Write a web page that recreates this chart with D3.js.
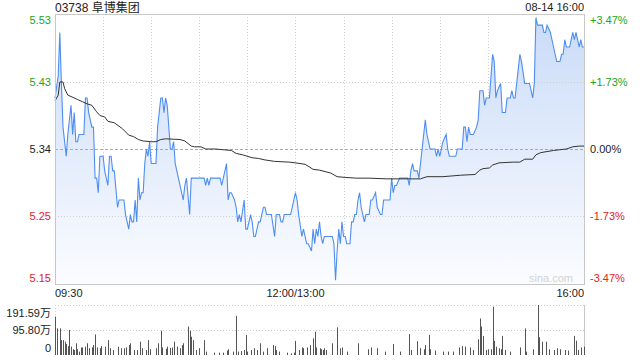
<!DOCTYPE html>
<html>
<head>
<meta charset="utf-8">
<script src="https://cdn.jsdelivr.net/npm/d3@7"></script>
<style>
  body { margin: 0; background: #fff; }
  svg { display: block; font-family: "Liberation Sans", Arial, sans-serif; }
</style>
</head>
<body>
<svg id="chart" width="640" height="360"></svg>
<script>
// ---- data ----
const title = "03738 阜博集团"
const dateLabel = "08-14 16:00"
const prevClose = 5.34
const pctTicks = [3.47, 1.73, 0, -1.73, -3.47]
const priceTicks = ["5.53", "5.43", "5.34", "5.25", "5.15"]
const pctLabels = ["+3.47%", "+1.73%", "0.00%", "-1.73%", "-3.47%"]
const timeLabels = [[0, "09:30"], [150, "12:00/13:00"], [330, "16:00"]]
const volTicks = [[191.59, "191.59万"], [95.80, "95.80万"], [0, "0"]]

// [minute since open, price]
const priceData = [[0,5.41],[2,5.44],[3,5.50],[4,5.43],[5,5.37],[7,5.33],[8,5.36],[10,5.40],[11,5.36],[12,5.39],[13,5.35],[14,5.35],[15,5.36],[18,5.36],[19,5.41],[20,5.41],[21,5.39],[23,5.37],[24,5.37],[25,5.30],[26,5.30],[27,5.28],[28,5.33],[30,5.33],[31,5.31],[33,5.29],[34,5.33],[35,5.33],[36,5.31],[37,5.31],[39,5.26],[40,5.27],[43,5.27],[44,5.25],[46,5.23],[47,5.25],[48,5.24],[49,5.24],[50,5.27],[51,5.24],[52,5.30],[53,5.27],[54,5.28],[55,5.28],[56,5.32],[57,5.34],[58,5.33],[59,5.35],[60,5.32],[63,5.32],[64,5.37],[66,5.41],[67,5.41],[68,5.39],[69,5.41],[70,5.40],[72,5.34],[73,5.34],[74,5.35],[75,5.32],[77,5.30],[80,5.27],[81,5.29],[82,5.30],[84,5.25],[85,5.30],[93,5.30],[94,5.29],[95,5.30],[96,5.29],[97,5.30],[103,5.30],[104,5.29],[105,5.30],[106,5.31],[107,5.32],[108,5.27],[109,5.28],[110,5.28],[112,5.27],[113,5.26],[114,5.24],[115,5.25],[116,5.24],[118,5.27],[119,5.23],[120,5.23],[122,5.25],[123,5.24],[124,5.22],[125,5.22],[126,5.23],[127,5.24],[128,5.24],[130,5.26],[131,5.26],[132,5.25],[135,5.25],[137,5.22],[138,5.25],[140,5.25],[141,5.24],[142,5.24],[143,5.25],[147,5.25],[150,5.28],[151,5.27],[152,5.25],[154,5.22],[155,5.23],[156,5.22],[157,5.21],[158,5.21],[160,5.20],[161,5.23],[162,5.21],[163,5.23],[164,5.22],[165,5.24],[166,5.22],[167,5.21],[168,5.22],[173,5.22],[174,5.21],[175,5.16],[176,5.20],[177,5.23],[178,5.21],[179,5.24],[180,5.22],[181,5.22],[182,5.21],[184,5.21],[185,5.24],[186,5.24],[187,5.25],[188,5.25],[189,5.27],[190,5.28],[191,5.26],[193,5.24],[194,5.25],[196,5.25],[197,5.27],[198,5.27],[200,5.28],[201,5.26],[203,5.25],[204,5.25],[205,5.27],[209,5.27],[210,5.30],[211,5.28],[212,5.29],[213,5.29],[215,5.30],[220,5.30],[221,5.29],[222,5.31],[223,5.32],[224,5.31],[226,5.31],[227,5.30],[228,5.32],[229,5.34],[231,5.38],[232,5.36],[234,5.34],[237,5.34],[238,5.33],[239,5.34],[240,5.33],[241,5.34],[242,5.35],[244,5.36],[245,5.34],[246,5.33],[250,5.33],[251,5.34],[254,5.34],[255,5.37],[256,5.37],[257,5.35],[258,5.37],[259,5.36],[261,5.36],[263,5.37],[264,5.38],[265,5.42],[267,5.42],[268,5.40],[269,5.41],[271,5.41],[273,5.47],[274,5.46],[275,5.41],[276,5.42],[278,5.43],[279,5.39],[281,5.39],[282,5.41],[284,5.41],[285,5.42],[286,5.41],[287,5.41],[289,5.45],[290,5.47],[291,5.46],[293,5.43],[296,5.43],[297,5.42],[298,5.41],[299,5.43],[300,5.52],[301,5.51],[304,5.51],[305,5.50],[306,5.50],[307,5.51],[309,5.50],[310,5.49],[311,5.48],[313,5.46],[315,5.46],[316,5.47],[317,5.47],[318,5.49],[319,5.48],[321,5.48],[322,5.49],[323,5.50],[324,5.49],[325,5.50],[326,5.49],[327,5.48],[328,5.49],[329,5.48],[330,5.48]]

// [minute, average price]
const avgData = [[0,5.406],[2,5.414],[3,5.432],[5,5.432],[6,5.423],[8,5.414],[10,5.412],[14,5.408],[17,5.405],[20,5.402],[23,5.400],[26,5.391],[28,5.386],[31,5.384],[33,5.378],[37,5.376],[42,5.368],[46,5.359],[49,5.357],[52,5.353],[55,5.351],[60,5.350],[63,5.350],[66,5.353],[69,5.354],[78,5.353],[81,5.351],[85,5.344],[87,5.343],[91,5.343],[94,5.340],[100,5.340],[110,5.338],[113,5.334],[117,5.332],[123,5.328],[127,5.327],[131,5.325],[137,5.323],[146,5.322],[150,5.321],[156,5.319],[159,5.315],[161,5.312],[165,5.311],[172,5.307],[176,5.302],[181,5.301],[188,5.300],[196,5.300],[207,5.299],[228,5.299],[232,5.302],[242,5.302],[253,5.304],[262,5.305],[265,5.311],[267,5.313],[271,5.314],[273,5.318],[277,5.321],[286,5.322],[290,5.322],[293,5.326],[298,5.326],[300,5.332],[303,5.335],[311,5.338],[315,5.339],[319,5.340],[323,5.343],[327,5.344],[330,5.344]]

// [minute, volume in 万]
const volData = [[0,147],[1,102],[3,102],[4,57],[5,57],[6,51],[7,42],[8,34],[9,96],[10,32],[11,22],[12,19],[13,45],[14,22],[15,13],[16,29],[17,29],[19,32],[20,45],[21,26],[23,29],[24,38],[25,79],[26,29],[28,26],[29,34],[31,32],[33,57],[34,26],[36,19],[39,32],[41,26],[43,26],[44,29],[46,38],[47,45],[49,19],[51,19],[53,51],[54,26],[57,19],[58,57],[59,22],[63,26],[64,45],[66,93],[67,29],[69,24],[70,32],[72,27],[73,29],[74,51],[76,32],[78,26],[79,38],[80,45],[83,109],[84,93],[85,70],[86,57],[88,19],[90,26],[93,57],[94,13],[99,9],[102,9],[105,9],[107,17],[108,22],[111,13],[113,150],[114,13],[116,15],[118,19],[119,77],[120,13],[122,19],[124,26],[126,19],[128,45],[130,13],[132,26],[136,38],[137,34],[138,19],[140,13],[145,9],[147,6],[149,9],[150,54],[152,19],[154,29],[155,26],[157,29],[159,38],[161,64],[162,89],[163,29],[165,26],[166,22],[167,19],[168,26],[169,19],[173,45],[176,106],[178,26],[179,29],[182,13],[189,45],[195,22],[197,29],[201,26],[206,13],[211,42],[215,13],[221,80],[222,19],[226,53],[228,26],[230,22],[231,38],[233,77],[234,22],[237,17],[242,13],[245,13],[248,13],[252,29],[254,34],[256,32],[259,29],[261,19],[264,60],[265,140],[266,109],[267,73],[269,19],[270,22],[272,22],[273,185],[274,54],[275,32],[277,26],[278,22],[279,73],[281,19],[284,13],[290,29],[293,102],[294,13],[298,22],[301,191.59],[302,68],[304,51],[306,51],[308,22],[311,19],[313,26],[315,22],[318,19],[320,17],[324,73],[325,55],[326,19],[328,29],[330,32]]

// ---- layout ----
const pLeft = 55, pRight = 584, pTop = 14, pBottom = 284
const vTop = 305, vBottom = 355
const green = "#1aa51a", red = "#e8211b", gridColor = "#cfcfcf"

const svg = d3.select("#chart")

const x = d3.scaleLinear().domain([0, 330]).range([pLeft, pRight])
const y = d3.scaleLinear()
  .domain([prevClose * (1 - 0.0347), prevClose * (1 + 0.0347)])
  .range([pBottom, pTop])
const vy = d3.scaleLinear().domain([0, 191.59]).range([vBottom, vTop])

const colorOf = (p) => p > 0 ? green : (p < 0 ? red : "#222")
const labelY = (d, i) => i === 0 ? 24 : (i === pctTicks.length - 1 ? 282 : y(prevClose * (1 + d / 100)) + 4)

// gradient for area
const grad = svg.append("defs").append("linearGradient")
  .attr("id", "fillGrad")
  .attr("gradientUnits", "userSpaceOnUse")
  .attr("x1", 0).attr("y1", pTop).attr("x2", 0).attr("y2", pBottom)
grad.append("stop").attr("offset", "0%").attr("stop-color", "#c9dbf8")
grad.append("stop").attr("offset", "100%").attr("stop-color", "#fbfcff")

// vertical grid lines every 30 min
const vGrid = d3.range(30, 330, 30)
svg.append("g").selectAll("line")
  .data(vGrid)
  .join("line")
    .attr("x1", d => Math.round(x(d)) + 0.5).attr("x2", d => Math.round(x(d)) + 0.5)
    .attr("y1", pTop).attr("y2", pBottom)
    .attr("stroke", gridColor)
    .attr("stroke-dasharray", "1,2")

// area + price line
const area = d3.area()
  .x(d => x(d[0]))
  .y0(pBottom)
  .y1(d => y(d[1]))
svg.append("path")
  .datum(priceData)
  .attr("d", area)
  .attr("fill", "url(#fillGrad)")

// horizontal grid lines
svg.append("g").selectAll("line")
  .data(pctTicks.filter(p => Math.abs(p) < 3))
  .join("line")
    .attr("x1", pLeft).attr("x2", pRight)
    .attr("y1", d => Math.round(y(prevClose * (1 + d / 100))) + 0.5)
    .attr("y2", d => Math.round(y(prevClose * (1 + d / 100))) + 0.5)
    .attr("stroke", d => d === 0 ? "#aaa" : gridColor)
    .attr("stroke-dasharray", d => d === 0 ? "3,2" : "1,2")

svg.append("path")
  .datum(priceData)
  .attr("d", d3.line().x(d => x(d[0])).y(d => y(d[1])))
  .attr("fill", "none")
  .attr("stroke", "#4f8ef0")
  .attr("stroke-width", 1.1)

// average line
svg.append("path")
  .datum(avgData)
  .attr("d", d3.line().x(d => x(d[0])).y(d => y(d[1])))
  .attr("fill", "none")
  .attr("stroke", "#333")
  .attr("stroke-width", 1)

// chart border
svg.append("rect")
  .attr("x", pLeft + 0.5).attr("y", pTop + 0.5)
  .attr("width", pRight - pLeft).attr("height", pBottom - pTop)
  .attr("fill", "none")
  .attr("stroke", "#c8c8c8")

// watermark
svg.append("text")
  .attr("x", 573).attr("y", 282)
  .attr("text-anchor", "end")
  .attr("font-size", "11px")
  .attr("fill", "#d4d4d4")
  .text("sina.com")

// left price labels
svg.append("g").selectAll("text")
  .data(pctTicks)
  .join("text")
    .attr("x", 51)
    .attr("y", labelY)
    .attr("text-anchor", "end")
    .attr("font-size", "11px")
    .attr("fill", d => colorOf(d))
    .text((d, i) => priceTicks[i])

// right pct labels
svg.append("g").selectAll("text")
  .data(pctTicks)
  .join("text")
    .attr("x", 590)
    .attr("y", labelY)
    .attr("font-size", "11px")
    .attr("fill", d => colorOf(d))
    .text((d, i) => pctLabels[i])

// time labels
svg.append("g").selectAll("text")
  .data(timeLabels)
  .join("text")
    .attr("x", d => x(d[0]))
    .attr("y", 297)
    .attr("text-anchor", (d, i) => i === 0 ? "start" : (i === timeLabels.length - 1 ? "end" : "middle"))
    .attr("font-size", "11px")
    .attr("fill", "#222")
    .text(d => d[1])

// title + date
svg.append("text")
  .attr("x", pLeft).attr("y", 12)
  .attr("font-size", "12px")
  .attr("font-family", "'Liberation Sans', 'Noto Sans CJK SC', sans-serif")
  .attr("fill", "#222")
  .text(title)

svg.append("text")
  .attr("x", pRight).attr("y", 11)
  .attr("text-anchor", "end")
  .attr("font-size", "11px")
  .attr("fill", "#222")
  .text(dateLabel)

// ---- volume panel ----
svg.append("line")
  .attr("x1", pLeft).attr("x2", pRight)
  .attr("y1", vTop + 0.5).attr("y2", vTop + 0.5)
  .attr("stroke", gridColor).attr("stroke-dasharray", "1,2")
svg.append("line")
  .attr("x1", pLeft).attr("x2", pRight)
  .attr("y1", Math.round(vy(95.80)) + 0.5).attr("y2", Math.round(vy(95.80)) + 0.5)
  .attr("stroke", gridColor).attr("stroke-dasharray", "1,2")
svg.append("line")
  .attr("x1", pLeft + 0.5).attr("x2", pLeft + 0.5)
  .attr("y1", vTop).attr("y2", vBottom)
  .attr("stroke", gridColor).attr("stroke-dasharray", "1,2")
svg.append("line")
  .attr("x1", pRight + 0.5).attr("x2", pRight + 0.5)
  .attr("y1", vTop).attr("y2", vBottom)
  .attr("stroke", "#c8c8c8")

svg.append("g").selectAll("line")
  .data(volData)
  .join("line")
    .attr("x1", d => Math.round(x(d[0])) + 0.5)
    .attr("x2", d => Math.round(x(d[0])) + 0.5)
    .attr("y1", vBottom)
    .attr("y2", d => vy(d[1]))
    .attr("stroke", "#555")
    .attr("stroke-width", 1)

svg.append("g").selectAll("text")
  .data(volTicks)
  .join("text")
    .attr("x", 51)
    .attr("y", (d, i) => [317, 334, 352][i])
    .attr("text-anchor", "end")
    .attr("font-size", "11px")
    .attr("font-family", "'Liberation Sans', 'Noto Sans CJK SC', sans-serif")
    .attr("fill", "#222")
    .text(d => d[1])
</script>
</body>
</html>
